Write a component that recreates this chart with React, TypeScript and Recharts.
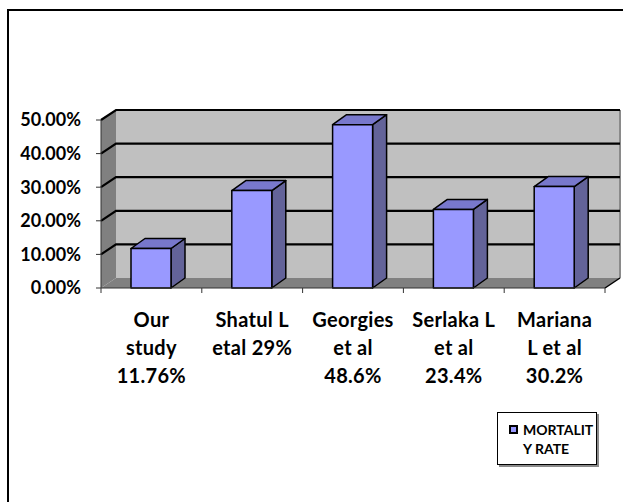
import React from "react";
import { BarChart, Bar, XAxis, YAxis, CartesianGrid, Legend } from "recharts";

// values
const studies = ["Our study 11.76%", "Shatul L etal 29%", "Georgies et al 48.6%", "Serlaka L et al 23.4%", "Mariana L et al 30.2%"];
const studyLines = [
  ["Our", "study", "11.76%"],
  ["Shatul L", "etal 29%"],
  ["Georgies", "et al", "48.6%"],
  ["Serlaka L", "et al", "23.4%"],
  ["Mariana", "L et al", "30.2%"],
];
const mortality = [0.1176, 0.29, 0.486, 0.234, 0.302];
const yTicks = [0, 0.1, 0.2, 0.3, 0.4, 0.5];
const seriesName = "MORTALITY RATE";
const legendLines = ["MORTALIT", "Y RATE"];

const data = studies.map((study, i) => ({ study, rate: mortality[i] }));

const FONT = "Lato, 'Liberation Sans', sans-serif";
const INK = "#000";
const WALL = { dx: 15, dy: -10 };
const BOX = { dx: 14, dy: -10 };

// back wall, side wall and floor are painted with the first grid line, then each line is bent round the walls
function WallGridLine(props: any) {
  const { x1, x2, y1, index, horizontalPoints } = props;
  const pts: number[] = horizontalPoints ?? [y1];
  const top = Math.min(...pts);
  const bottom = Math.max(...pts);
  const { dx, dy } = WALL;
  return (
    <g key={`wall-${index}`}>
      {index === 0 && (
        <g>
          <polygon points={`${x1 + dx},${top + dy} ${x2 + dx},${top + dy} ${x2 + dx},${bottom + dy} ${x1 + dx},${bottom + dy}`} fill="#c0c0c0" />
          <line x1={x2 + dx} y1={top + dy} x2={x2 + dx} y2={bottom + dy} stroke="#8a8a8a" strokeWidth={2} />
          <polygon points={`${x1},${top} ${x1 + dx},${top + dy} ${x1 + dx},${bottom + dy} ${x1},${bottom}`} fill="#808080" />
          <polygon points={`${x1},${bottom} ${x1 + dx},${bottom + dy} ${x2 + dx},${bottom + dy} ${x2},${bottom}`} fill="#808080" />
          <line x1={x2} y1={bottom} x2={x2 + dx} y2={bottom + dy} stroke={INK} strokeWidth={1.5} />
        </g>
      )}
      {Math.abs(y1 - bottom) > 0.5 && (
        <polyline
          points={`${x1},${y1} ${x1 + dx},${y1 + dy} ${x2 + dx},${y1 + dy}`}
          fill="none"
          stroke={INK}
          strokeWidth={2.2}
        />
      )}
    </g>
  );
}

function Box3D(props: any) {
  const { x, y, width: w, height: h, fill } = props;
  if (!w || h == null) return null;
  const { dx, dy } = BOX;
  return (
    <g stroke={INK} strokeWidth={1.5} strokeLinejoin="round">
      <polygon points={`${x + w},${y} ${x + w + dx},${y + dy} ${x + w + dx},${y + h + dy} ${x + w},${y + h}`} fill="#636399" />
      <polygon points={`${x},${y} ${x + dx},${y + dy} ${x + w + dx},${y + dy} ${x + w},${y}`} fill="#7878cc" />
      <rect x={x} y={y} width={w} height={h} fill={fill} />
    </g>
  );
}

function StudyTick(props: any) {
  const { x, y, payload, index } = props;
  const i = payload?.index ?? index ?? 0;
  const half = payload?.offset ?? 50;
  const lines = studyLines[i] ?? [String(payload?.value)];
  return (
    <g>
      <line x1={x - half} y1={y} x2={x - half} y2={y + 5} stroke="#333" />
      {i === studies.length - 1 && <line x1={x + half} y1={y} x2={x + half} y2={y + 5} stroke="#333" />}
      <text x={x} y={y} textAnchor="middle" fill={INK} fontFamily={FONT} fontWeight={700} fontSize={20} letterSpacing={0.3}>
        {lines.map((l, k) => (
          <tspan key={k} x={x} y={y + 39 + k * 28}>
            {l}
          </tspan>
        ))}
      </text>
    </g>
  );
}

function MortalityLegend({ payload }: any) {
  const item = payload?.[0];
  return (
    <div
      style={{
        position: "relative",
        width: 100,
        height: 53,
        boxSizing: "border-box",
        border: "1px solid #000",
        boxShadow: "2px 2px 0 #8a8a8a",
        background: "#fff",
        fontFamily: FONT,
        fontWeight: 700,
        fontSize: 14,
        lineHeight: "19px",
        color: INK,
      }}
    >
      <span
        style={{
          position: "absolute",
          left: 11,
          top: 12,
          width: 5,
          height: 5,
          background: item?.color ?? "#9999ff",
          border: "2px solid #000",
        }}
      />
      <div style={{ position: "absolute", left: 25, top: 7, whiteSpace: "nowrap" }}>
        {legendLines.map((l) => (
          <div key={l}>{l}</div>
        ))}
      </div>
    </div>
  );
}

export default function App() {
  return (
    <div style={{ position: "absolute", left: 0, top: 0, width: 623, height: 502, overflow: "hidden", background: "#fff" }}>
      <div
        style={{ position: "absolute", left: 7, top: 9, width: 700, height: 600, border: "2px solid #000", boxSizing: "border-box" }}
      />
      <div style={{ position: "absolute", left: 0, top: 0 }}>
        <BarChart width={623} height={502} data={data} margin={{ top: 120, right: 18, bottom: 114, left: 0 }}>
          <CartesianGrid vertical={false} horizontal={(p: any) => <WallGridLine {...p} />} />
          <XAxis
            dataKey="study"
            height={100}
            tickSize={0}
            tickMargin={0}
            interval={0}
            axisLine={{ stroke: "#333" }}
            tickLine={false}
            tick={(p: any) => <StudyTick {...p} />}
          />
          <YAxis
            width={101}
            domain={[0, 0.5]}
            ticks={yTicks}
            tickSize={5}
            tickMargin={15}
            axisLine={{ stroke: "#333" }}
            tickLine={{ stroke: "#333" }}
            tickFormatter={(v: number) => `${(v * 100).toFixed(2)}%`}
            tick={{ fill: INK, fontSize: 18, fontWeight: 700, fontFamily: FONT }}
          />
          <Legend
            layout="vertical"
            align="center"
            verticalAlign="middle"
            wrapperStyle={{ left: 497, top: 412, width: 100 }}
            content={(p: any) => <MortalityLegend {...p} />}
          />
          <Bar dataKey="rate" name={seriesName} fill="#9999ff" barSize={40} shape={(p: any) => <Box3D {...p} />} isAnimationActive={false} />
        </BarChart>
      </div>
    </div>
  );
}
